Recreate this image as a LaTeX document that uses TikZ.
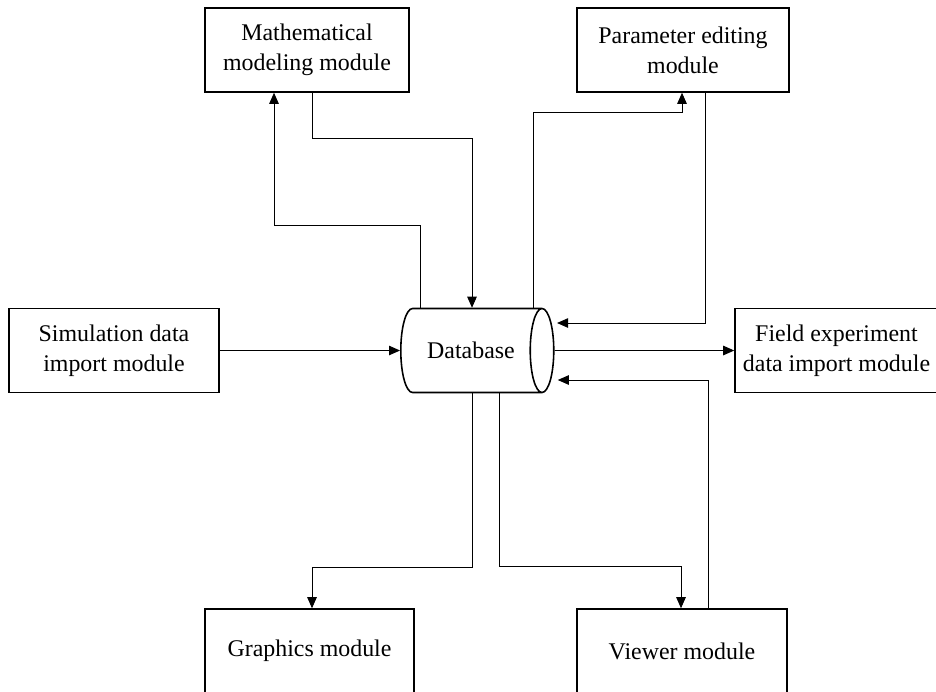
\documentclass[tikz,border=0pt]{standalone}
\usepackage{fontspec}
\setmainfont{Liberation Serif}
\usetikzlibrary{arrows.meta,shapes.geometric}

\begin{document}
\begin{tikzpicture}[x=0.02cm,y=-0.02cm,font=\fontsize{13.6}{17}\selectfont,
    arr/.style={-{Triangle[length=0.22cm,width=0.19cm]},line width=0.5pt}]

  \useasboundingbox (0,0) rectangle (936,691);

  \begin{scope}[every node/.style={draw,line width=0.9pt,align=center,inner sep=0pt,minimum height=1.68cm}]
    \node[minimum width=4.08cm] (math)   at (307,50)    {Mathematical\\modeling module};
    \node[minimum width=4.24cm] (param)  at (683,50)    {Parameter editing\\module};
    \node[minimum width=4.2cm]  (sim)    at (114,350.5) {Simulation data\\import module};
    \node[minimum width=4.06cm] (field)  at (836.5,350.5) {Field experiment\\data import module};
    \node[minimum width=4.18cm] (graph)  at (309.5,651) {Graphics module};
    \node[minimum width=4.2cm]  (viewer) at (682,651)   {Viewer module};
  \end{scope}

  \node[draw,line width=0.9pt,cylinder,shape aspect=1.4,inner sep=0pt,
        minimum width=1.68cm,minimum height=3.06cm] (db) at (471,350.5) {Database};

  % to and from the database
  \draw[arr] (math.south -| 312,0) -- (312,138) -| (db.north -| 472,0);
  \draw[arr] (db.north -| 420,0) -- (420,225) -| (math.south -| 274,0);
  \draw[arr] (db.north -| 533,0) -- (533,112) -| (param.south -| 682,0);
  \draw[arr,shorten >=0.05cm] (param.south -| 705,0) |- (db.east |- 0,323);
  \draw[arr] (sim.east) -- (db.west);
  \draw[arr] (db.east) -- (field.west);
  \draw[arr,shorten >=0.065cm] (viewer.north -| 708,0) |- (db.east |- 0,380);
  \draw[arr] (db.south -| 472,0) -- (472,567) -| (graph.north -| 312,0);
  \draw[arr] (db.south -| 499,0) -- (499,566) -| (viewer.north -| 681,0);

\end{tikzpicture}
\end{document}
